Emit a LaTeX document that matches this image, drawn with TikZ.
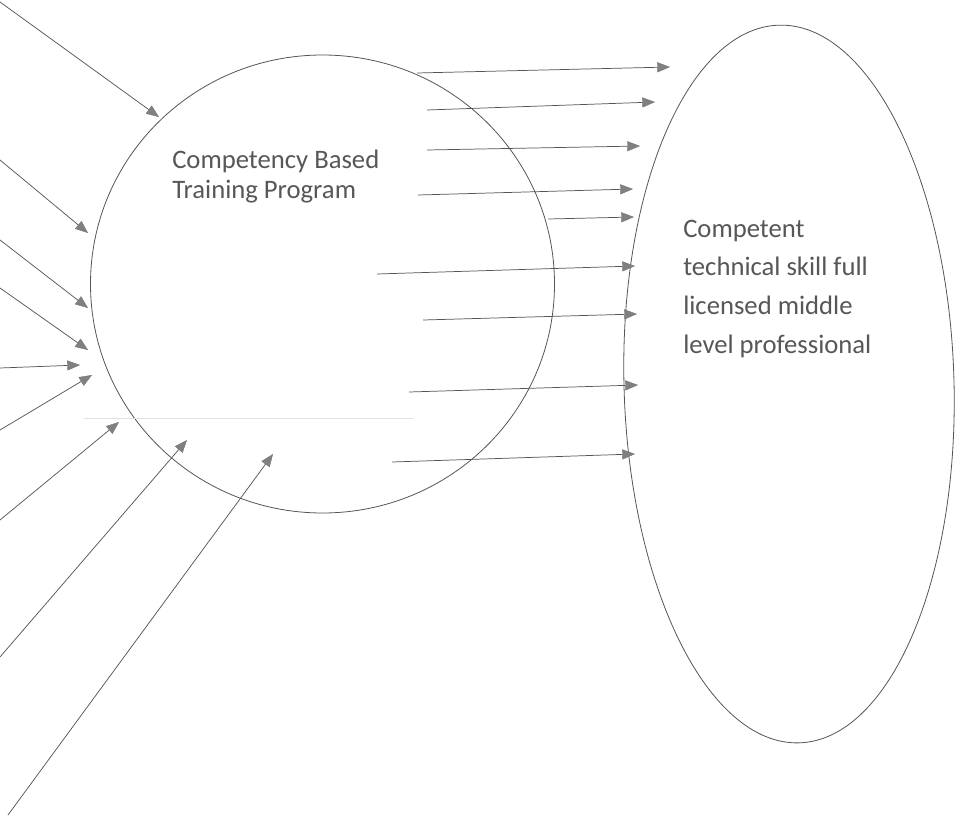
\documentclass[tikz,border=0pt]{standalone}
\usepackage{fontspec}
\setmainfont{Carlito}
\usetikzlibrary{shapes.geometric,arrows.meta}
\definecolor{inkline}{HTML}{555555}
\definecolor{inktext}{HTML}{575757}
\definecolor{tipfill}{HTML}{808080}
\begin{document}
\begin{tikzpicture}[x=0.75pt,y=-0.75pt,
  blob/.style={ellipse, draw=inkline, line width=0.6pt, inner sep=0pt},
  label/.style={text=inktext, align=left, inner sep=0pt},
  feed/.style={draw=inkline, line width=0.55pt,
    -{Triangle[length=9.5pt,width=7.5pt,fill=tipfill,color=inkline!80,line width=0.3pt]}},
  faint/.style={draw=black!12, line width=0.5pt}]
\useasboundingbox[fill=white] (0,0) rectangle (955,820);

% the training programme and the outcome
\node[blob, minimum width=348pt, minimum height=343.5pt] (cbt) at (322.5,284) {};
\node[blob, minimum width=247.5pt, minimum height=538.5pt, rotate=1.6] (out) at (789,384) {};

% labels
\node[label, anchor=base west, font=\fontsize{20}{22}\selectfont] (cbtlabel) at (172,198)
  {Competency Based\\Training Program};
\node[label, anchor=base west, font=\fontsize{20}{29}\selectfont] (outlabel) at (683,353)
  {Competent\\technical skill full\\licensed middle\\level professional};

% inputs entering the programme
\coordinate (i1) at (0,2);     \coordinate (h1) at (159,117);
\coordinate (i2) at (0,160);   \coordinate (h2) at (88,233);
\coordinate (i3) at (0,240);   \coordinate (h3) at (88,308);
\coordinate (i4) at (0,288);   \coordinate (h4) at (88,350);
\coordinate (i5) at (0,368);   \coordinate (h5) at (80,365);
\coordinate (i6) at (0,430);   \coordinate (h6) at (92,375);
\coordinate (i7) at (0,520);   \coordinate (h7) at (119,422);
\coordinate (i8) at (0,657);   \coordinate (h8) at (187,440);
\coordinate (i9) at (8,815);   \coordinate (h9) at (273,454);
\foreach \k in {1,...,9} \draw[feed] (i\k) -- (h\k);

% outputs leading to the outcome
\coordinate (t1) at (417,73);  \coordinate (o1) at (670,67);
\coordinate (t2) at (427,110); \coordinate (o2) at (655,102);
\coordinate (t3) at (427,150); \coordinate (o3) at (640,146);
\coordinate (t4) at (418,195); \coordinate (o4) at (633,189);
\coordinate (t5) at (548,219); \coordinate (o5) at (634,217);
\coordinate (t6) at (377,274); \coordinate (o6) at (635,266);
\coordinate (t7) at (423,320); \coordinate (o7) at (637,314);
\coordinate (t8) at (409,392); \coordinate (o8) at (638,385);
\coordinate (t9) at (392,462); \coordinate (o9) at (635,454);
\foreach \k in {1,...,9} \draw[feed] (t\k) -- (o\k);

% faint rule across the lower part of the programme
\coordinate (r1) at (84,418); \coordinate (r2) at (413,418);
\draw[faint] (r1) -- (r2);
\end{tikzpicture}
\end{document}
